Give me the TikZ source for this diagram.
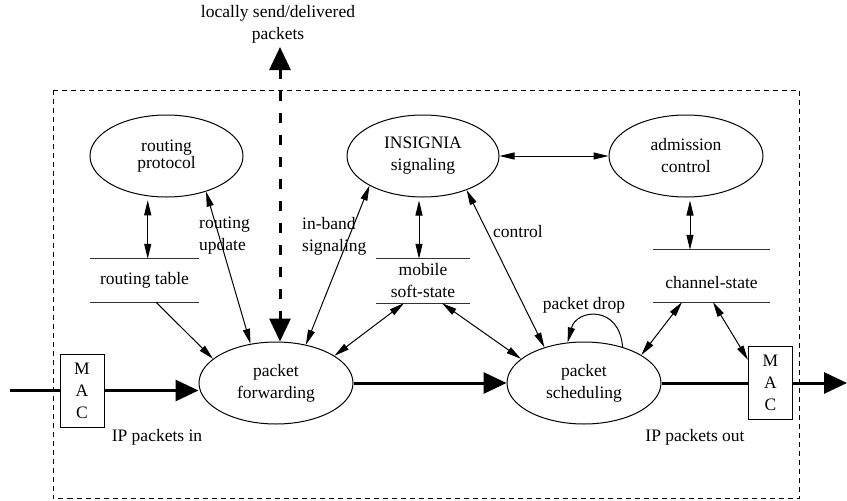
\documentclass[tikz,border=0pt]{standalone}
\usepackage{fontspec}
\setmainfont{Liberation Serif}
\usetikzlibrary{arrows.meta,shapes.geometric,calc}
\newcommand\mytightfont{\fontsize{17.5}{16.8}\selectfont\lineskiplimit=-20pt\relax}
\begin{document}
\begin{tikzpicture}[x=1pt,y=-1pt,
  every node/.style={font=\fontsize{17.5}{22}\selectfont},
  proc/.style={ellipse, draw, line width=1pt, inner sep=0pt, align=center},
  store/.style={rectangle, inner sep=0pt, align=center},
  storeline/.style={line width=1pt, draw=black!80},
  mac/.style={rectangle, draw, line width=1pt, inner sep=0pt, align=center, minimum width=44pt, minimum height=73pt},
  lbl/.style={inner sep=0pt, align=left},
  thin2/.style={line width=1pt, {Triangle[length=15pt,width=7pt]}-{Triangle[length=15pt,width=7pt]}},
  thin1/.style={line width=1pt, -{Triangle[length=15pt,width=7pt]}},
  flow/.style={line width=3pt, -{Triangle[length=23pt,width=21pt]}},
  flowline/.style={line width=3pt},
  localflow/.style={line width=3pt, dash pattern=on 10pt off 12pt, {Triangle[length=23pt,width=21pt]}-{Triangle[length=23pt,width=21pt]}},
  frame/.style={line width=0.8pt, dash pattern=on 5pt off 4pt}
]
\useasboundingbox (0,0) rectangle (847,501);

% frame
\draw[frame] (53,90) rectangle (799,498.5);

% processes
\node[proc, minimum width=153pt, minimum height=82pt, font=\mytightfont] (rp) at (166.5,156) {routing\\protocol};
\node[proc, minimum width=152pt, minimum height=82pt] (ins) at (423,156) {INSIGNIA\\signaling};
\node[proc, minimum width=154pt, minimum height=82pt] (ac) at (686,156) {admission\\control};
\node[proc, minimum width=154pt, minimum height=82pt] (pf) at (276,383) {packet\\forwarding};
\node[proc, minimum width=154pt, minimum height=82pt] (ps) at (584,383) {packet\\scheduling};

% stores
\node[store, minimum width=109pt, minimum height=43pt] (rt) at (144.5,280.5) {\raisebox{-2pt}{routing table}};
\node[store, minimum width=94pt, minimum height=44pt] (mss) at (423,281) {mobile\\soft-state};
\node[store, minimum width=117pt, minimum height=52pt] (cs) at (711.5,276) {\raisebox{-12pt}[0pt][0pt]{channel-state}};
\draw[storeline] (rt.north west) -- (rt.north east) (rt.south west) -- (rt.south east);
\draw[storeline] (mss.north west) -- (mss.north east) (mss.south west) -- (mss.south east);
\draw[storeline] (cs.north west) -- (cs.north east) (cs.south west) -- (cs.south east);

% MAC boxes
\node[mac] (macL) at (82,390.5) {M\\A\\C};
\node[mac] (macR) at (770.5,383) {M\\A\\C};

% labels
\node[lbl, anchor=west] (lru) at (199,236) {routing\\update};
\node[lbl, anchor=west] (lib) at (302,236) {in-band\\signaling};
\node[lbl, anchor=west] (lctl) at (493,232) {control};
\node (ldrop) at (584,305) {packet drop};
\node (lin) at (157,437) {IP packets in};
\node (lout) at (695,437) {IP packets out};
\node[align=center] (lloc) at (278,24) {locally send/delivered\\packets};

% thin connectors
\draw[thin2] ([yshift=-4pt]rp.245) -- (rp.245 |- rt.north);
\draw[thin2] (rp.318) -- (pf.123);
\draw[thin1] ([xshift=11.5pt]rt.south) -- (pf.159);
\draw[thin2] (ins.209) -- (pf.52);
\draw[thin2] ([xshift=-4pt,yshift=-3pt]ins.south) -- ([xshift=-4pt]mss.north);
\draw[thin2] ([xshift=-19pt]mss.south) -- (pf.25);
\draw[thin2] ([xshift=19pt]mss.south) -- (ps.159);
\draw[thin2] (ins.322) -- (ps.138);
\draw[thin2] (ins.east) -- (ac.west);
\draw[thin2] ([xshift=4pt,yshift=-3pt]ac.south) -- ([xshift=-21.5pt]cs.north);
\draw[thin2] ([xshift=-29.5pt]cs.south) -- (ps.26);
\draw[thin2] ([xshift=1.5pt]cs.south) -- ([yshift=-14pt]macR.north west);
\draw[thin1] (ps.43) .. controls +(-3,-42) and +(9,-34) .. (ps.112);

% main packet flow
\coordinate (inL) at (10,390.5);
\coordinate (outR) at (847,383);
\draw[flowline] (inL) -- (macL.west);
\draw[flow] (macL.east) -- (macL.east -| pf.west);
\draw[flow] (pf.east) -- (ps.west);
\draw[flowline] (ps.east) -- (macR.west);
\draw[flow] (macR.east) -- (outR);

% locally sent / delivered
\coordinate (loc) at (280,47);
\draw[localflow] (loc) -- (loc |- pf.north);
\end{tikzpicture}
\end{document}
